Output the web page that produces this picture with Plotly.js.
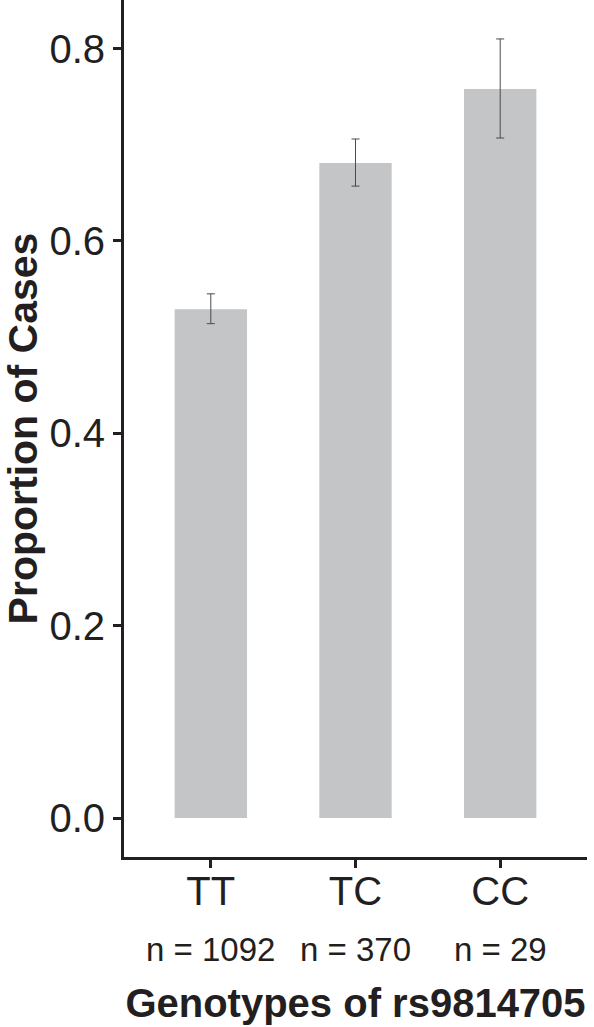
<!DOCTYPE html>
<html>
<head>
<meta charset="utf-8">
<script src="https://cdn.plot.ly/plotly-3.0.1.min.js"></script>
<style>
  html, body { margin: 0; padding: 0; background: #fff; }
  #chart { width: 594px; height: 1027px; }
</style>
</head>
<body>
<div id="chart"></div>
<script>
// genotype groups and sample sizes
var genotypes = ['TT', 'TC', 'CC'];
var sampleLabels = ['n = 1092', 'n = 370', 'n = 29'];

// proportion of cases per genotype, with error bar extents
var proportions = [0.529, 0.681, 0.758];
var errUpper = [0.016, 0.025, 0.052];
var errLower = [0.015, 0.024, 0.051];

var yTicks = [0, 0.2, 0.4, 0.6, 0.8];
var yTickText = ['0.0', '0.2', '0.4', '0.6', '0.8'];

var font = '"Liberation Sans", Arial, Helvetica, sans-serif';
var ink = '#231f20';

var trace = {
    type: 'bar',
    x: genotypes,
    y: proportions,
    width: 0.5,
    marker: { color: '#c4c5c7', line: { width: 0 } },
    error_y: {
        type: 'data',
        symmetric: false,
        array: errUpper,
        arrayminus: errLower,
        color: '#4a4a4a',
        thickness: 1,
        width: 4
    },
    hoverinfo: 'none'
};

var notes = sampleLabels.map(function(t, i) {
    return {
        text: t,
        x: genotypes[i],
        xref: 'x',
        yref: 'paper',
        y: -0.1085,
        yanchor: 'middle',
        showarrow: false,
        font: { family: font, size: 33, color: ink }
    };
});

var layout = {
    width: 594,
    height: 1027,
    margin: { l: 124, r: 7, t: 0, b: 170, pad: 0 },
    paper_bgcolor: '#ffffff',
    plot_bgcolor: '#ffffff',
    showlegend: false,
    bargap: 0.5,
    font: { family: font, color: ink },
    xaxis: {
        type: 'category',
        range: [-0.6, 2.6],
        showline: true,
        linecolor: ink,
        linewidth: 3,
        ticks: 'outside',
        ticklen: 8,
        tickwidth: 3,
        tickcolor: ink,
        showgrid: false,
        zeroline: false,
        ticklabelstandoff: -11,
        tickfont: { family: font, size: 40, color: ink },
        title: {
            text: '<b>Genotypes of rs9814705</b>',
            font: { family: font, size: 40, color: ink },
            standoff: 77
        }
    },
    yaxis: {
        range: [-0.0405, 0.8505],
        tickvals: yTicks,
        ticktext: yTickText,
        showline: true,
        linecolor: ink,
        linewidth: 3,
        ticks: 'outside',
        ticklen: 8,
        tickwidth: 3,
        tickcolor: ink,
        showgrid: false,
        zeroline: false,
        tickfont: { family: font, size: 40, color: ink },
        title: {
            text: '<b>Proportion of Cases</b>',
            font: { family: font, size: 41, color: ink },
            standoff: 14
        }
    },
    annotations: notes
};

Plotly.newPlot('chart', [trace], layout, { displayModeBar: false, staticPlot: true });
</script>
</body>
</html>
